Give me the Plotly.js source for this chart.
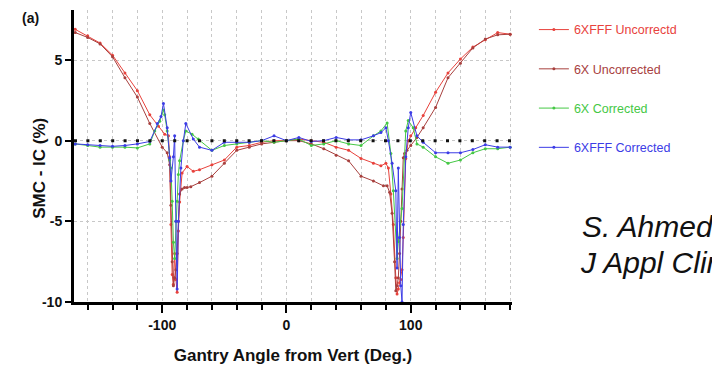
<!DOCTYPE html>
<html>
<head>
<meta charset="utf-8">
<script src="https://cdn.plot.ly/plotly-3.0.1.min.js"></script>
<style>html,body{margin:0;padding:0;background:#fff;}#chart{width:712px;height:373px;}</style>
</head>
<body>
<div id="chart"></div>
<script>
// Gantry angle (deg) and SMC - IC (%) for each series
const fffUncX = [-170,-160,-150,-140,-130,-120,-110,-103,-98,-95,-94,-93,-92,-91,-90,-89,-88,-87,-86,-84,-80,-75,-70,-60,-50,-40,-30,-20,-10,0,10,20,30,40,50,60,70,76,80,82,84,86,88,89,90,91,92,93,94,96,98,100,104,110,120,130,140,150,160,170,180];
const fffUncY = [6.9,6.5,6.05,5.3,4.2,3.1,1.6,0.9,0.4,0.3,-1.0,-5.2,-8.3,-8.9,-7.0,-8.6,-9.4,-5.6,-3.8,-2.0,-1.6,-1.9,-1.8,-1.5,-1.2,-0.4,-0.3,-0.1,0,0,0.1,0,-0.1,-0.4,-0.6,-1.1,-1.4,-1.56,-1.4,-1.7,-3.3,-5.2,-8.5,-9.5,-9.2,-8.8,-8.6,-8.0,-6.0,-1.1,0.0,0.3,0.8,1.56,3.0,4.2,5.06,5.8,6.25,6.7,6.6];

const xUncX = [-170,-160,-150,-140,-130,-120,-110,-100,-96,-94,-93,-92,-91,-90,-89,-88,-87,-86,-84,-82,-80,-77,-70,-60,-50,-40,-30,-20,-10,0,10,20,30,40,50,60,70,78,81,83,85,87,88,89,90,91,92,93,94,95,97,100,105,110,120,130,140,150,160,170,180];
const xUncY = [6.7,6.4,6.0,5.2,3.9,2.7,1.06,-0.4,-0.75,-1.5,-4.0,-7.5,-9.0,-8.5,-8.0,-7.0,-5.0,-3.3,-3.0,-2.9,-2.9,-2.85,-2.6,-2.2,-1.4,-0.6,-0.4,-0.2,-0.1,0,0,-0.2,-0.5,-0.9,-1.25,-2.2,-2.5,-2.8,-2.8,-3.2,-4.5,-7.5,-9.3,-9.0,-8.5,-7.0,-5.0,-3.0,-1.06,-0.8,-0.6,-0.3,0.2,0.8,2.06,3.9,4.8,5.75,6.3,6.56,6.6];

const xCorX = [-170,-160,-150,-140,-130,-120,-110,-106,-102,-99,-98,-96,-94,-93,-92,-91,-90,-89,-88,-87,-86,-83,-81,-76,-71,-60,-50,-40,-30,-20,-10,0,10,20,30,40,50,60,70,76,81,84,86,89,90,93,96,98,102,105,110,120,130,140,150,160,170,180];
const xCorY = [-0.2,-0.3,-0.4,-0.4,-0.4,-0.45,-0.2,0.6,1.2,1.9,1.6,0.6,-1.2,-1.7,-3.75,-6.3,-7.3,-5.0,-3.75,-2.1,-1.25,0,0.6,0.4,0.1,-0.6,-0.3,-0.2,-0.1,0,-0.1,0,0.1,-0.3,-0.2,0,-0.2,-0.3,0.3,0.6,1.1,-0.8,-3.1,-7.3,-6.25,-4.2,0.6,1.25,0.8,-0.2,-0.4,-1.0,-1.4,-1.2,-0.75,-0.5,-0.5,-0.4];

const fffCorX = [-170,-160,-150,-140,-130,-120,-110,-104,-101,-99,-96,-94,-93,-91,-90,-89,-88,-87,-85,-83,-81,-75,-70,-60,-50,-40,-30,-20,-10,0,10,20,30,40,50,60,70,76,80,82,85,88,89,90,91,92,93,94,96,98,100,105,110,120,130,140,150,160,170,180];
const fffCorY = [-0.2,-0.25,-0.3,-0.35,-0.3,-0.2,-0.05,1.06,1.5,2.3,0.8,-1.06,-2.5,-1.0,0.3,-5.0,-9.2,-5.0,-1.7,0,1.06,0.1,-0.4,-0.6,-0.1,-0.1,-0.1,0,0.3,0,0.2,-0.05,0,0.2,0.05,0.05,0.3,0.5,0.8,0,-1.4,-3.1,-7.9,-1.7,-6.0,-9.0,-10.0,-5.2,-1.0,0.8,1.75,0.3,-0.1,-0.75,-0.75,-0.75,-0.55,-0.25,-0.4,-0.4];

const seriesNames = ['6XFFF Uncorrectd','6X Uncorrected','6X Corrected','6XFFF Corrected'];
const seriesColors = ['#e8423c','#a8403e','#45c845','#3c3ce6'];
const seriesX = [fffUncX, xUncX, xCorX, fffCorX];
const seriesY = [fffUncY, xUncY, xCorY, fffCorY];

const xTickVals = [-100, 0, 100];
const yTickVals = [-10, -5, 0, 5];

const font = 'Arial, "Liberation Sans", sans-serif';

const traces = seriesNames.map((n, i) => ({
  type: 'scatter', mode: 'lines+markers',
  x: seriesX[i], y: seriesY[i],
  name: '<span style="color:' + seriesColors[i] + '">' + n + '</span>',
  legendgroup: 'g' + i,
  line: {color: seriesColors[i], width: 1},
  marker: {color: seriesColors[i], size: 3}
}));

const layout = {
  width: 712, height: 373,
  margin: {l: 74, r: 200, t: 10, b: 71},
  paper_bgcolor: '#fff', plot_bgcolor: '#fff',
  font: {family: font, size: 13, color: '#111'},
  showlegend: true,
  legend: {x: 1.05, xanchor: 'left', y: 0.983, yanchor: 'top', tracegroupgap: 20,
           font: {family: font, size: 12.5}, bgcolor: 'rgba(0,0,0,0)'},
  xaxis: {
    range: [-171, 181.5], tickvals: xTickVals, ticktext: xTickVals.map(v => '<b>' + v + '</b>'),
    ticks: 'outside', ticklen: 8, tickwidth: 2, tickcolor: '#000',
    showline: true, linewidth: 3, linecolor: '#000',
    showgrid: true, gridcolor: '#c8c8c8', griddash: 'dot', gridwidth: 1,
    zeroline: false,
    minor: {dtick: 20, tick0: 0, ticks: 'outside', ticklen: 5, tickwidth: 2, tickcolor: '#000',
            showgrid: true, gridcolor: '#c8c8c8', griddash: 'dot', gridwidth: 1},
    tickfont: {family: font, size: 14, color: '#111'},
    title: {text: '<b>Gantry Angle from Vert (Deg.)</b>', font: {family: font, size: 17, color: '#111'}, standoff: 18}
  },
  yaxis: {
    range: [-10, 8.1], tickvals: yTickVals, ticktext: yTickVals.map(v => '<b>' + v + '</b>'),
    ticks: 'outside', ticklen: 6, tickwidth: 2, tickcolor: '#000',
    showline: true, linewidth: 3, linecolor: '#000',
    showgrid: true, gridcolor: '#c8c8c8', griddash: 'dot', gridwidth: 1,
    zeroline: false,
    tickfont: {family: font, size: 14, color: '#111'}
  },
  shapes: [
    {type: 'line', xref: 'paper', x0: 0, x1: 1, yref: 'y', y0: 0, y1: 0,
     line: {color: '#111', width: 3, dash: '3px,9.4px'}, layer: 'above'}
  ],
  annotations: [
    {text: '<b>(a)</b>', xref: 'paper', yref: 'paper', x: -0.10, y: 0.973, xanchor: 'center', yanchor: 'middle',
     showarrow: false, font: {family: font, size: 14, color: '#111'}},
    {text: '<b>SMC - IC (%)</b>', xref: 'paper', yref: 'paper', x: -0.078, y: 0.459, xanchor: 'center', yanchor: 'middle',
     textangle: -90, showarrow: false, font: {family: font, size: 17, color: '#111'}},
    {text: '<i>S. Ahmed et al.</i>', xref: 'paper', yref: 'paper', x: 1.155, y: 0.26, xanchor: 'left', yanchor: 'middle',
     showarrow: false, font: {family: font, size: 30, color: '#111'}},
    {text: '<i>J Appl Clin Med Phys</i>', xref: 'paper', yref: 'paper', x: 1.15, y: 0.135, xanchor: 'left', yanchor: 'middle',
     showarrow: false, font: {family: font, size: 30, color: '#111'}}
  ]
};

Plotly.newPlot('chart', traces, layout, {displayModeBar: false, staticPlot: true});
</script>
</body>
</html>
